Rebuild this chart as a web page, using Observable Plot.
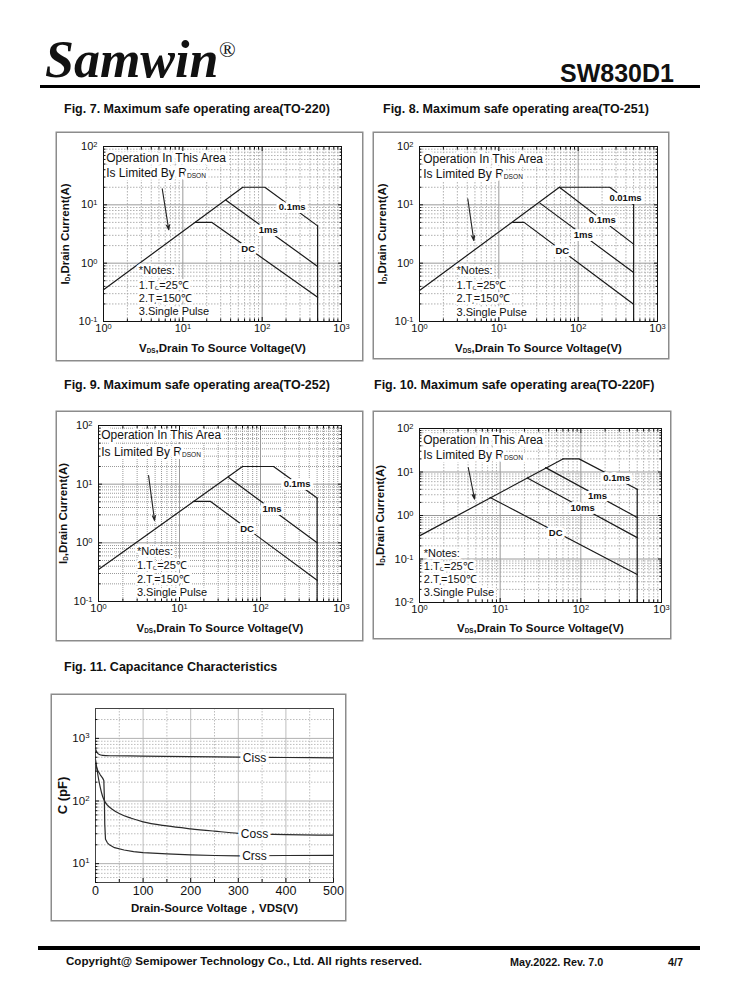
<!DOCTYPE html>
<html>
<head>
<meta charset="utf-8">
<script src="https://cdn.jsdelivr.net/npm/d3@7"></script>
<script src="https://cdn.jsdelivr.net/npm/@observablehq/plot@0.6"></script>
<style>
html,body{margin:0;padding:0;background:#fff;}
#page{position:relative;width:738px;height:1000px;overflow:hidden;font-family:'Liberation Sans',Arial,sans-serif;color:#111;}
.t{position:absolute;white-space:nowrap;line-height:1;}
.fig{font-weight:bold;font-size:12.5px;}
.box{position:absolute;background:#fff;box-shadow:0 0 0 1.5px #8c8c8c;}
.box svg{position:absolute;left:0;top:0;overflow:visible;}
.rule{position:absolute;background:#000;}
</style>
</head>
<body>
<div id="page">
  <div class="t" style="left:45px;top:34px;font-family:'Liberation Serif','Times New Roman',serif;font-weight:bold;font-style:italic;font-size:52px;">Samwin</div>
  <div class="t" style="left:219px;top:39px;font-family:'Liberation Serif','Times New Roman',serif;font-size:22px;">®</div>
  <div class="t" style="left:560px;top:61px;font-weight:bold;font-size:25px;">SW830D1</div>
  <div class="rule" style="left:40px;top:85px;width:660px;height:3px;"></div>

  <div class="t fig" style="left:64px;top:103px;">Fig. 7. Maximum safe operating area(TO-220)</div>
  <div class="t fig" style="left:383px;top:103px;">Fig. 8. Maximum safe operating area(TO-251)</div>
  <div class="t fig" style="left:64px;top:379px;">Fig. 9. Maximum safe operating area(TO-252)</div>
  <div class="t fig" style="left:374px;top:379px;">Fig. 10. Maximum safe operating area(TO-220F)</div>
  <div class="t fig" style="left:64px;top:661px;">Fig. 11. Capacitance Characteristics</div>

  <div class="box" id="f7" style="left:57px;top:133px;width:305px;height:227px;"></div>
  <div class="box" id="f8" style="left:374px;top:133px;width:294px;height:225px;"></div>
  <div class="box" id="f9" style="left:57px;top:412px;width:305px;height:228px;"></div>
  <div class="box" id="f10" style="left:374px;top:412px;width:296px;height:226px;"></div>
  <div class="box" id="f11" style="left:52px;top:695px;width:293px;height:225px;"></div>

  <div class="rule" style="left:38px;top:946px;width:662px;height:4px;"></div>
  <div class="t" style="left:66px;top:955px;font-weight:bold;font-size:11.6px;">Copyright@ Semipower Technology Co., Ltd. All rights reserved.</div>
  <div class="t" style="left:510px;top:957px;font-weight:bold;font-size:10.8px;">May.2022. Rev. 7.0</div>
  <div class="t" style="left:668px;top:957px;font-weight:bold;font-size:10.8px;">4/7</div>
</div>
<script>
const FONT = "'Liberation Sans', Arial, Helvetica, sans-serif";

// ---------- Fig. 7 (TO-220) ----------
const f7Rdson = [[1, 0.35], [57, 20]];
const f7T01ms = [[57, 20], [108, 20], [500, 4.36]];
const f7T1ms = [[35, 12], [500, 0.88]];
const f7DC = [[14.3, 5], [23.3, 5], [500, 0.26]];
const f7Edge = [[500, 4.36], [500, 0.1]];
const f7CurveLabels = [{x: 239, y: 9.1, t: "0.1ms"}, {x: 119, y: 3.65, t: "1ms"}, {x: 66.7, y: 1.78, t: "DC"}];
const f7Area = [{x: 1.05, y: 62, t: "Operation In This Area"}, {x: 1.05, y: 34.4, t: "Is Limited By R_{DSON}"}];
const f7Notes = [{x: 2.79, y: 0.75, t: "*Notes:"}, {x: 2.79, y: 0.41, t: "1.T_{C}=25℃"}, {x: 2.79, y: 0.25, t: "2.T_{j}=150℃"}, {x: 2.79, y: 0.148, t: "3.Single Pulse"}];
const f7Arrow = [[5.5, 18.8, 6.65, 3.73]];

// ---------- Fig. 8 (TO-251) ----------
const f8Rdson = [[1, 0.34], [58, 20]];
const f8T001ms = [[58, 20], [250, 20], [500, 10]];
const f8T01ms = [[58, 20], [500, 2.12]];
const f8T1ms = [[33, 10.7], [500, 0.69]];
const f8DC = [[15, 5], [20.8, 5], [500, 0.198]];
const f8Edge = [[500, 10], [500, 0.1]];
const f8CurveLabels = [{x: 395, y: 13, t: "0.01ms"}, {x: 201, y: 5.6, t: "0.1ms"}, {x: 116, y: 3.0, t: "1ms"}, {x: 63, y: 1.63, t: "DC"}];
const f8Area = [{x: 1.08, y: 61.5, t: "Operation In This Area"}, {x: 1.08, y: 34, t: "Is Limited By R_{DSON}"}];
const f8Notes = [{x: 2.93, y: 0.75, t: "*Notes:"}, {x: 2.93, y: 0.41, t: "1.T_{C}=25℃"}, {x: 2.93, y: 0.245, t: "2.T_{j}=150℃"}, {x: 2.93, y: 0.145, t: "3.Single Pulse"}];
const f8Arrow = [[4.06, 12.7, 4.84, 2.44]];

// ---------- Fig. 9 (TO-252) ----------
const f9Rdson = [[1, 0.35], [60, 20]];
const f9T01ms = [[60, 20], [145, 20], [500, 5.8]];
const f9T1ms = [[40.5, 13], [500, 1]];
const f9DC = [[14.8, 5.1], [24, 5.1], [500, 0.23]];
const f9Edge = [[500, 5.8], [500, 0.1]];
const f9CurveLabels = [{x: 283, y: 10.2, t: "0.1ms"}, {x: 139, y: 3.8, t: "1ms"}, {x: 68.3, y: 1.72, t: "DC"}];
const f9Area = [{x: 1.05, y: 67.5, t: "Operation In This Area"}, {x: 1.05, y: 35, t: "Is Limited By R_{DSON}"}];
const f9Notes = [{x: 2.98, y: 0.72, t: "*Notes:"}, {x: 2.98, y: 0.416, t: "1.T_{C}=25℃"}, {x: 2.98, y: 0.237, t: "2.T_{j}=150℃"}, {x: 2.98, y: 0.14, t: "3.Single Pulse"}];
const f9Arrow = [[4.15, 14, 4.92, 2.4]];

// ---------- Fig. 10 (TO-220F) ----------
const f10Rdson = [[1, 0.34], [60, 20]];
const f10T01ms = [[60, 20], [95, 20], [500, 4]];
const f10T1ms = [[36.6, 12.6], [500, 0.9]];
const f10T10ms = [[21.7, 7.3], [500, 0.31]];
const f10DC = [[7.5, 2.6], [500, 0.044]];
const f10Edge = [[500, 4], [500, 0.01]];
const f10CurveLabels = [{x: 279, y: 7.2, t: "0.1ms"}, {x: 161, y: 2.84, t: "1ms"}, {x: 105, y: 1.53, t: "10ms"}, {x: 48.7, y: 0.4, t: "DC"}];
const f10Area = [{x: 1.08, y: 54, t: "Operation In This Area"}, {x: 1.08, y: 24.5, t: "Is Limited By R_{DSON}"}];
const f10Notes = [{x: 1.13, y: 0.134, t: "*Notes:"}, {x: 1.13, y: 0.066, t: "1.T_{C}=25℃"}, {x: 1.13, y: 0.0345, t: "2.T_{j}=150℃"}, {x: 1.13, y: 0.017, t: "3.Single Pulse"}];
const f10Arrow = [[4.02, 12.7, 4.82, 2.38]];

// ---------- Fig. 11 Capacitance ----------
const ciss = [[0, 680], [3, 600], [8, 552], [15, 536], [30, 528], [100, 522], [200, 512], [300, 503], [400, 495], [500, 488]];
const coss = [[0, 460], [3, 330], [6, 235], [10, 165], [15, 118], [20, 97], [25, 86], [35, 74], [50, 63], [75, 53], [100, 46.5], [150, 40], [200, 36], [250, 33], [300, 30.5], [350, 29.5], [400, 29], [500, 28.5]];
const crss = [[0, 380], [5, 305], [10, 262], [15, 232], [17.5, 212], [18.5, 120], [19.5, 42], [21, 24.5], [25, 21.5], [30, 19.8], [40, 18], [60, 16.5], [80, 15.6], [100, 15], [150, 14.3], [200, 13.8], [250, 13.5], [300, 13.3], [400, 13.5], [500, 13.6]];
const capLabels = [{x: 334, y: 492, t: "Ciss"}, {x: 334, y: 30, t: "Coss"}, {x: 334, y: 13.3, t: "Crss"}];
const capXTicks = [0, 100, 200, 300, 400, 500];
const capXMinor = [50, 150, 250, 350, 450];
const capYTicks = [10, 100, 1000];

const SOA_X_TICKS = [1, 10, 100, 1000];

function minorLog(majors, lo, hi) {
  const out = [];
  for (const d of majors) for (let k = 2; k <= 9; k++) { const v = k * d; if (v > lo && v < hi) out.push(v); }
  for (let k = 2; k <= 9; k++) { const v = k * majors[0] / 10; if (v > lo && v < hi) out.push(v); }
  return out;
}
const supFmt = d => `10^{${Math.round(Math.log10(d))}}`;

function richify(svg) {
  svg.querySelectorAll("text").forEach(t => {
    const nodes = t.querySelectorAll("tspan").length ? [...t.querySelectorAll("tspan")] : [t];
    nodes.forEach(n => {
      const s = n.textContent;
      if (!/[\^_]\{/.test(s)) return;
      n.textContent = "";
      const re = /([\^_])\{([^}]*)\}/g; let last = 0, m;
      while ((m = re.exec(s))) {
        if (m.index > last) n.appendChild(document.createTextNode(s.slice(last, m.index)));
        const ts = document.createElementNS("http://www.w3.org/2000/svg", "tspan");
        ts.setAttribute("baseline-shift", m[1] === "^" ? "45%" : "-15%");
        ts.setAttribute("font-size", m[1] === "^" ? "0.68em" : "0.55em");
        ts.textContent = m[2];
        n.appendChild(ts);
        last = re.lastIndex;
      }
      if (last < s.length) n.appendChild(document.createTextNode(s.slice(last)));
    });
  });
  return svg;
}

const noLab = {label: null};

function soa(c) {
  const [y0, y1] = c.yDomain;
  const yMaj = [];
  for (let e = Math.round(Math.log10(y0)); e <= Math.round(Math.log10(y1)); e++) yMaj.push(10 ** e);
  const xMinor = minorLog(SOA_X_TICKS, 1, 1000);
  const yMinor = minorLog(yMaj, y0, y1);
  const halo = {stroke: "white", strokeWidth: 5, paintOrder: "stroke", fill: "#111", fontFamily: FONT};
  const marks = [
    Plot.ruleX(xMinor, {stroke: c.minorColor, strokeDasharray: c.dash, strokeWidth: 0.9}),
    Plot.ruleY(yMinor, {stroke: c.minorColor, strokeDasharray: c.dash, strokeWidth: 0.9}),
    Plot.ruleX(SOA_X_TICKS.slice(1, -1), {stroke: "#9a9a9a", strokeWidth: 1}),
    Plot.ruleY(yMaj.slice(1, -1), {stroke: "#9a9a9a", strokeWidth: 1}),
    ...c.curves.map(cv => Plot.line(cv, {stroke: "#1a1a1a", strokeWidth: 1.2})),
    Plot.arrow(c.arrow, {x1: d => d[0], y1: d => d[1], x2: d => d[2], y2: d => d[3], stroke: "#222", strokeWidth: 1.1, headLength: 7, headAngle: 35}),
    Plot.text(c.area, {x: "x", y: "y", text: "t", textAnchor: "start", dx: 1, fontSize: 12, ...halo, strokeWidth: 6}),
    Plot.text(c.notes, {x: "x", y: "y", text: "t", textAnchor: "start", fontSize: 11, ...halo}),
    Plot.text(c.labels, {x: "x", y: "y", text: "t", fontSize: 9.5, fontWeight: "bold", ...halo, strokeWidth: 6}),
    Plot.frame({stroke: "#111", strokeWidth: 1}),
    Plot.axisX(SOA_X_TICKS, {...noLab, anchor: "bottom", tickSize: -4, tickPadding: 7, tickFormat: supFmt, fontSize: 11}),
    Plot.axisX(xMinor, {...noLab, anchor: "bottom", tickSize: -2.5, tickFormat: () => ""}),
    Plot.axisX(SOA_X_TICKS, {...noLab, anchor: "top", tickSize: -4, tickFormat: () => ""}),
    Plot.axisX(xMinor, {...noLab, anchor: "top", tickSize: -2.5, tickFormat: () => ""}),
    Plot.axisY(yMaj, {...noLab, anchor: "left", tickSize: -4, tickPadding: 10, tickFormat: supFmt, fontSize: 11}),
    Plot.axisY(yMinor, {...noLab, anchor: "left", tickSize: -2.5, tickFormat: () => ""}),
    Plot.axisY(yMaj, {...noLab, anchor: "right", tickSize: -4, tickFormat: () => ""}),
    Plot.axisY(yMinor, {...noLab, anchor: "right", tickSize: -2.5, tickFormat: () => ""}),
    Plot.text(["I_{D},Drain Current(A)"], {frameAnchor: "left", dx: c.ylDx, rotate: -90, textAnchor: "middle", lineAnchor: "middle", text: d => d, fontWeight: "bold", fontSize: 11.5, fontFamily: FONT, fill: "#111"}),
    Plot.text(["V_{DS},Drain To Source Voltage(V)"], {frameAnchor: "bottom", dy: c.xlDy, textAnchor: "middle", lineAnchor: "middle", text: d => d, fontWeight: "bold", fontSize: 11.5, fontFamily: FONT, fill: "#111"})
  ];
  const svg = Plot.plot({
    width: c.w, height: c.h,
    marginLeft: c.ml, marginRight: c.mr, marginTop: c.mt, marginBottom: c.mb,
    x: {type: "log", domain: [1, 1000], label: null},
    y: {type: "log", domain: c.yDomain, label: null},
    style: {fontFamily: FONT, fontSize: "11px", color: "#111", background: "transparent", overflow: "visible"},
    marks
  });
  return richify(svg);
}

const soaCfg = [
  {id: "f7", w: 305, h: 227, ml: 46, mr: 21, mt: 13, mb: 39, yDomain: [0.1, 100], dash: "1.5,1.5", minorColor: "#a8a8a8",
   curves: [f7Rdson, f7T01ms, f7T1ms, f7DC, f7Edge], labels: f7CurveLabels, area: f7Area, notes: f7Notes, arrow: f7Arrow, ylDx: -38, xlDy: 27},
  {id: "f8", w: 294, h: 225, ml: 45, mr: 11, mt: 13, mb: 37, yDomain: [0.1, 100], dash: "1.5,1.5", minorColor: "#a8a8a8",
   curves: [f8Rdson, f8T001ms, f8T01ms, f8T1ms, f8DC, f8Edge], labels: f8CurveLabels, area: f8Area, notes: f8Notes, arrow: f8Arrow, ylDx: -37, xlDy: 27},
  {id: "f9", w: 305, h: 228, ml: 41, mr: 21, mt: 13, mb: 39, yDomain: [0.1, 100], dash: "1,1", minorColor: "#8f8f8f",
   curves: [f9Rdson, f9T01ms, f9T1ms, f9DC, f9Edge], labels: f9CurveLabels, area: f9Area, notes: f9Notes, arrow: f9Arrow, ylDx: -35, xlDy: 27},
  {id: "f10", w: 296, h: 226, ml: 45, mr: 9, mt: 16, mb: 36, yDomain: [0.01, 100], dash: "1.5,1.5", minorColor: "#a8a8a8",
   curves: [f10Rdson, f10T01ms, f10T1ms, f10T10ms, f10DC, f10Edge], labels: f10CurveLabels, area: f10Area, notes: f10Notes, arrow: f10Arrow, ylDx: -39, xlDy: 26}
];
for (const c of soaCfg) document.getElementById(c.id).appendChild(soa(c));

// capacitance chart
(function () {
  const yMinor = minorLog(capYTicks, 5, 3000).concat([5]).filter(v => v >= 5 && v <= 3000);
  const halo = {stroke: "white", strokeWidth: 6, paintOrder: "stroke", fill: "#111", fontFamily: FONT};
  const svg = Plot.plot({
    width: 293, height: 225, marginLeft: 43, marginRight: 12, marginTop: 13, marginBottom: 38,
    x: {domain: [0, 500], label: null},
    y: {type: "log", domain: [5, 3000], label: null},
    style: {fontFamily: FONT, fontSize: "12px", color: "#111", background: "transparent", overflow: "visible"},
    marks: [
      Plot.ruleX(capXMinor, {stroke: "#b5b5b5", strokeDasharray: "1.5,1.5", strokeWidth: 0.9}),
      Plot.ruleX(capXTicks.slice(1, -1), {stroke: "#bdbdbd", strokeWidth: 1}),
      Plot.ruleY(yMinor, {stroke: "#b5b5b5", strokeDasharray: "1.5,1.5", strokeWidth: 0.9}),
      Plot.ruleY(capYTicks, {stroke: "#b0b0b0", strokeWidth: 1}),
      Plot.line(ciss, {stroke: "#2a2a2a", strokeWidth: 1.2, curve: "monotone-x"}),
      Plot.line(coss, {stroke: "#2a2a2a", strokeWidth: 1.2, curve: "monotone-x"}),
      Plot.line(crss, {stroke: "#2a2a2a", strokeWidth: 1.2, curve: "linear"}),
      Plot.text(capLabels, {x: "x", y: "y", text: "t", fontSize: 12, ...halo}),
      Plot.frame({stroke: "#444", strokeWidth: 1}),
      Plot.axisX(capXTicks, {...noLab, anchor: "bottom", tickSize: -4, tickPadding: 8, fontSize: 12.5}),
      Plot.axisX(capXMinor, {...noLab, anchor: "bottom", tickSize: -3, tickFormat: () => ""}),
      Plot.axisY(capYTicks, {...noLab, anchor: "left", tickSize: -4, tickPadding: 10, tickFormat: supFmt, fontSize: 11.5}),
      Plot.axisY(yMinor, {...noLab, anchor: "left", tickSize: -2.5, tickFormat: () => ""}),
      Plot.text(["C (pF)"], {frameAnchor: "left", dx: -33, rotate: -90, textAnchor: "middle", lineAnchor: "middle", text: d => d, fontWeight: "bold", fontSize: 13, fontFamily: FONT, fill: "#111"}),
      Plot.text(["Drain-Source Voltage，VDS(V)"], {frameAnchor: "bottom", dy: 26, textAnchor: "middle", lineAnchor: "middle", text: d => d, fontWeight: "bold", fontSize: 11.5, fontFamily: FONT, fill: "#111"})
    ]
  });
  document.getElementById("f11").appendChild(richify(svg));
})();
</script>
</body>
</html>
